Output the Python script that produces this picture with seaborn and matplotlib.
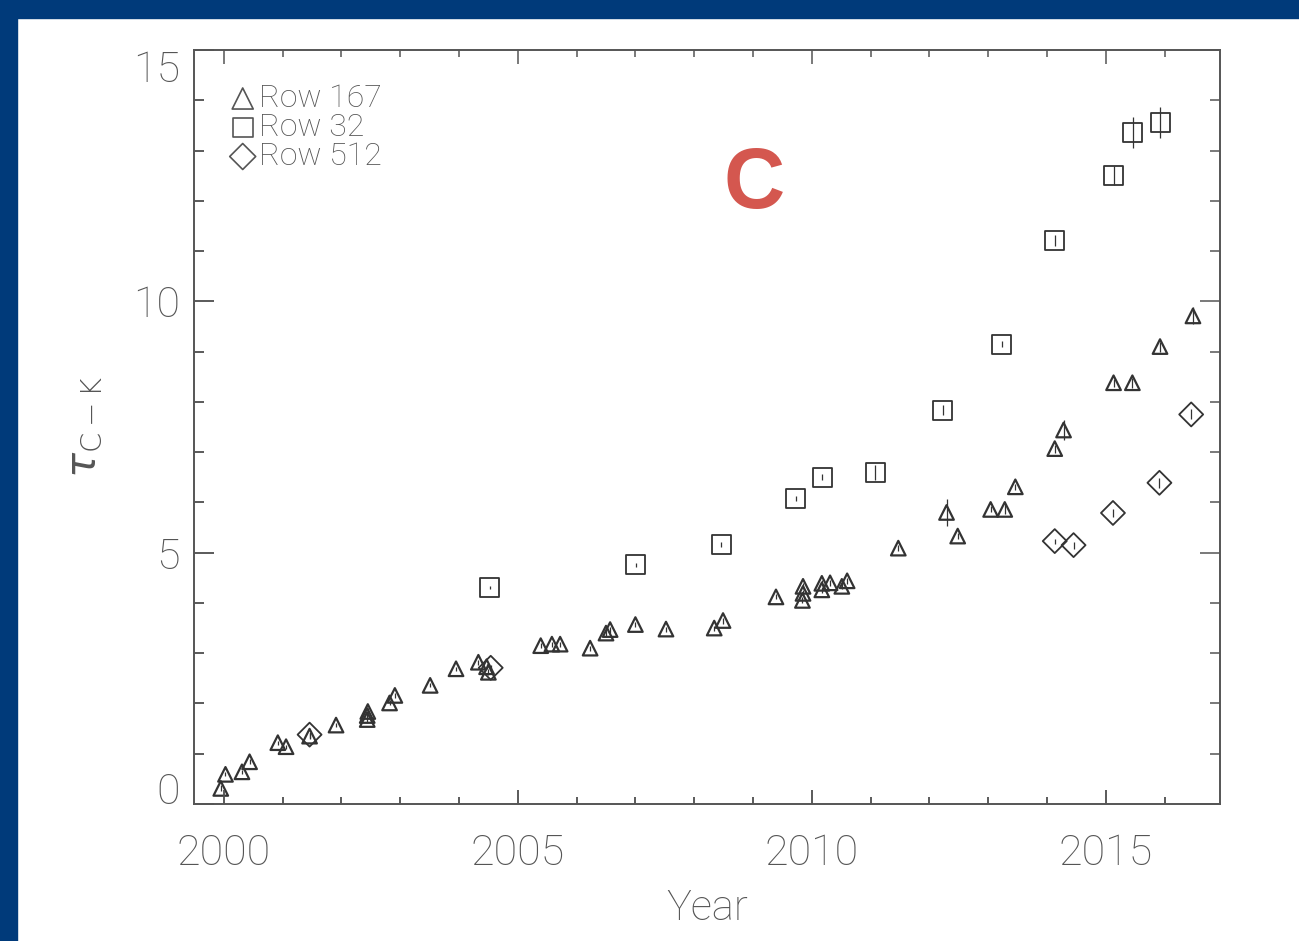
import numpy as np
import pandas as pd
import matplotlib
matplotlib.use('Agg')
import matplotlib.pyplot as plt
import seaborn as sns
from matplotlib.patches import Rectangle
from matplotlib.ticker import MultipleLocator

# Row 167 (triangles)
row167_year = [1999.95, 2000.03, 2000.31, 2000.44, 2000.92, 2001.06, 2001.46, 2001.91,
               2002.44, 2002.44, 2002.45, 2002.82, 2002.91, 2003.51, 2003.95, 2004.33,
               2004.47, 2004.50, 2005.39, 2005.58, 2005.72, 2006.23, 2006.50, 2006.57,
               2007.00, 2007.52, 2008.34, 2008.49, 2009.39, 2009.85, 2009.85, 2009.84,
               2010.17, 2010.17, 2010.31, 2010.51, 2010.60, 2011.47, 2012.29, 2012.48,
               2013.04, 2013.28, 2013.46, 2014.13, 2014.28, 2015.13, 2015.45, 2015.92,
               2016.48]
row167_tau = [0.31, 0.59, 0.64, 0.84, 1.22, 1.14, 1.35, 1.57,
              1.68, 1.76, 1.84, 2.01, 2.16, 2.36, 2.69, 2.82,
              2.73, 2.62, 3.15, 3.18, 3.18, 3.10, 3.40, 3.47,
              3.57, 3.48, 3.50, 3.65, 4.12, 4.33, 4.19, 4.05,
              4.39, 4.26, 4.40, 4.33, 4.44, 5.09, 5.80, 5.33,
              5.86, 5.86, 6.31, 7.07, 7.44, 8.38, 8.38, 9.10,
              9.71]
row167_err = [0.06, 0.04, 0.04, 0.05, 0.04, 0.04, 0.06, 0.04,
              0.05, 0.05, 0.06, 0.05, 0.05, 0.04, 0.04, 0.05,
              0.05, 0.06, 0.05, 0.05, 0.05, 0.05, 0.06, 0.06,
              0.05, 0.05, 0.05, 0.06, 0.05, 0.06, 0.06, 0.06,
              0.06, 0.06, 0.06, 0.06, 0.06, 0.06, 0.27, 0.06,
              0.06, 0.10, 0.06, 0.08, 0.20, 0.08, 0.10, 0.10,
              0.17]

# Row 32 (squares)
row32_year = [2004.52, 2007.01, 2008.46, 2009.73, 2010.18, 2011.08,
              2012.23, 2013.23, 2014.13, 2015.13, 2015.46, 2015.92]
row32_tau = [4.31, 4.76, 5.17, 6.08, 6.50, 6.60,
             7.83, 9.15, 11.21, 12.50, 13.36, 13.55]
row32_err = [0.03, 0.04, 0.05, 0.05, 0.06, 0.15,
             0.10, 0.06, 0.10, 0.19, 0.30, 0.31]

# Row 512 (diamonds)
row512_year = [2001.46, 2004.54, 2014.13, 2014.45, 2015.12, 2015.91, 2016.45]
row512_tau = [1.38, 2.71, 5.23, 5.15, 5.79, 6.39, 7.75]
row512_err = [0.06, 0.06, 0.05, 0.07, 0.08, 0.10, 0.10]

ink = '#333333'
grey = '#555555'
blue = '#003a7a'
thin = dict(family=['Roboto', 'DejaVu Sans'], weight='light')

sns.set_style('ticks')
plt.rcParams['font.family'] = ['Roboto', 'DejaVu Sans']
plt.rcParams['font.weight'] = 'light'
plt.rcParams['mathtext.fontset'] = 'dejavusans'
plt.rcParams['axes.axisbelow'] = False

fig = plt.figure(figsize=(12.99, 9.41), dpi=100)
ax = fig.add_axes([0.14935, 0.14559, 0.78984, 0.80128])

series = [
    ('Row 167', row167_year, row167_tau, row167_err, '^', 110),
    ('Row 32', row32_year, row32_tau, row32_err, 's', 187),
    ('Row 512', row512_year, row512_tau, row512_err, 'D', 149),
]
for name, yr, tau, err, mk, size in series:
    df = pd.DataFrame({'year': yr, 'tau': tau, 'err': err})
    ax.errorbar(df['year'], df['tau'], yerr=df['err'], fmt='none',
                ecolor=ink, elinewidth=0.9, capsize=0, zorder=2)
    sns.scatterplot(data=df, x='year', y='tau', marker=mk, s=size,
                    facecolor='none', edgecolor=ink,
                    linewidth=1.6 if mk == '^' else 1.3,
                    label=name, ax=ax, zorder=3)

ax.set_xlim(1999.495, 2016.94)
ax.set_ylim(0, 15)
ax.xaxis.set_major_locator(MultipleLocator(5))
ax.xaxis.set_minor_locator(MultipleLocator(1))
ax.set_yticks([0, 5, 10, 15])
ax.yaxis.set_minor_locator(MultipleLocator(1))

for s in ax.spines.values():
    s.set_visible(True)
    s.set_color(grey)
    s.set_linewidth(1.4)

ax.tick_params(which='both', direction='in', top=True, right=True,
               bottom=True, left=True,
               color=grey, width=1.1, labelcolor=grey, labelsize=31)
ax.tick_params(axis='x', which='major', length=10, pad=21)
ax.tick_params(axis='x', which='minor', length=5)
ax.tick_params(axis='y', which='major', length=14.4, pad=10)
ax.tick_params(axis='y', which='minor', length=7.2)

# inner tick marks along the bottom and left edges, drawn as plain lines
# at the locator positions (lengths given as axes fractions)
x0, x1 = ax.get_xlim()
y0, y1 = ax.get_ylim()
xt = ax.xaxis.get_minor_locator().tick_values(x0, x1)
xt = xt[(xt >= x0) & (xt <= x1)]
yv = ax.yaxis.get_minor_locator().tick_values(y0, y1)
yv = yv[(yv >= y0) & (yv <= y1)]
ax.vlines(xt, 0, np.where(xt % 5 == 0, 0.0186, 0.0093),
          transform=ax.get_xaxis_transform(), colors=grey, linewidth=1.1,
          clip_on=False, zorder=10)
ax.hlines(yv, 0, np.where(yv % 5 == 0, 0.0195, 0.0098),
          transform=ax.get_yaxis_transform(), colors=grey, linewidth=1.1,
          clip_on=False, zorder=10)

ax.set_xlabel('Year', fontsize=30, color=grey, labelpad=10, **thin)
ax.set_ylabel(r'$\tau_{\mathrm{C-K}}$', fontsize=30, color=grey, labelpad=20)

yt = ax.yaxis.get_major_ticks()
yt[0].label1.set_va('baseline')
yt[-1].label1.set_va('top')

leg = ax.legend(loc='upper left', bbox_to_anchor=(0.021, 0.972), frameon=False,
                prop=dict(size=23, **thin), handletextpad=0.05, labelspacing=0.0,
                borderaxespad=0, handlelength=0.9, labelcolor=grey)
for h, sz in zip(leg.legend_handles, [230, 200, 175]):
    h.set_sizes([sz])
    h.set_edgecolor(grey)
    h.set_linewidth(1.2)

ax.text(0.546, 0.82, 'C', transform=ax.transAxes, fontsize=61,
        fontweight='bold', color='#d4574f', ha='center', va='center',
        family=['Liberation Sans', 'DejaVu Sans'])

fig.patches.append(Rectangle((0, 1 - 18 / 941), 1, 18 / 941,
                             transform=fig.transFigure, color=blue, zorder=10))
fig.patches.append(Rectangle((0, 0), 17 / 1299, 1,
                             transform=fig.transFigure, color=blue, zorder=10))

fig.savefig('out.png', dpi=100, facecolor='white')
